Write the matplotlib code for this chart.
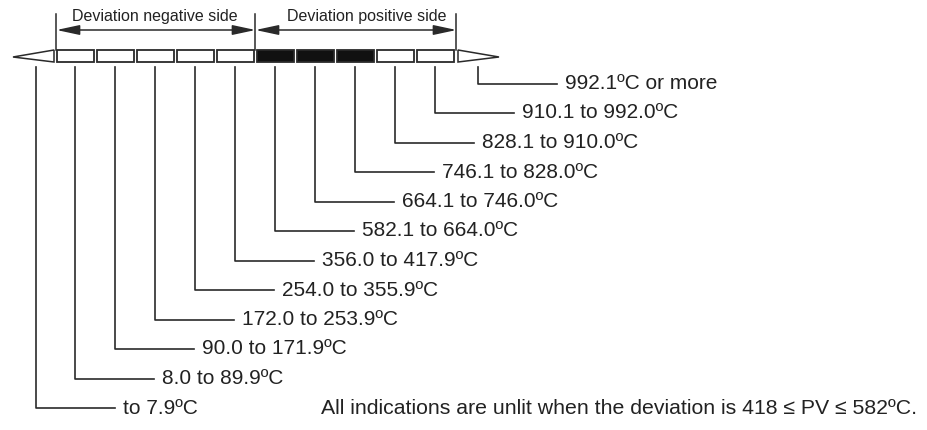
import matplotlib.pyplot as plt
from matplotlib.patches import Rectangle, Polygon, FancyArrowPatch

plt.rcParams['font.family'] = ['Liberation Sans', 'DejaVu Sans']

# range labels, from the left triangle to the right triangle
labels = ['to 7.9ºC', '8.0 to 89.9ºC', '90.0 to 171.9ºC', '172.0 to 253.9ºC',
          '254.0 to 355.9ºC', '356.0 to 417.9ºC', '582.1 to 664.0ºC',
          '664.1 to 746.0ºC', '746.1 to 828.0ºC', '828.1 to 910.0ºC',
          '910.1 to 992.0ºC', '992.1ºC or more']
# 1 = segment drawn lit (black)
lit = [0, 0, 0, 0, 0, 1, 1, 1, 0, 0]
sides = ['Deviation negative side', 'Deviation positive side']
note = 'All indications are unlit when the deviation is 418 ≤ PV ≤ 582ºC.'

line_c = '#2a2a2a'
x0, pitch, cw = 57, 40, 37
bar_top, bar_bot = 50, 62
bar_mid = (bar_top + bar_bot) / 2

fig = plt.figure(figsize=(9.28, 4.3), dpi=100)
ax = fig.add_axes([0, 0, 1, 1])
ax.set_xlim(0, 928)
ax.set_ylim(430, 0)
ax.axis('off')

# bar segments
for i, on in enumerate(lit):
    xl = x0 + pitch * i
    ax.add_patch(Rectangle((xl, bar_top), cw, bar_bot - bar_top,
                           facecolor='#111111' if on else 'white',
                           edgecolor=line_c, lw=1.3))
x_end = x0 + pitch * len(lit) - 2
ax.add_patch(Polygon([(x0 - 3, bar_top), (x0 - 3, bar_bot), (13, bar_mid + 1)],
                     closed=True, facecolor='white', edgecolor=line_c, lw=1.1))
ax.add_patch(Polygon([(x_end + 3, bar_top), (x_end + 3, bar_bot), (499, bar_mid + 1)],
                     closed=True, facecolor='white', edgecolor=line_c, lw=1.1))

# bracket with side labels
mid = x0 + pitch * 5 - 1.5
for xb in [x0 - 0.5, mid, x_end + 1.5]:
    ax.plot([xb, xb], [14, bar_top], color=line_c, lw=1.1)
for (xa, xb), txt in zip([(x0 - 0.5, mid), (mid, x_end + 1.5)], sides):
    ax.add_patch(FancyArrowPatch((xa, 30), (xb, 30),
                                 arrowstyle='<|-|>,head_length=1.4,head_width=0.3',
                                 mutation_scale=10, color=line_c, lw=1.1,
                                 shrinkA=0, shrinkB=0))
ax.text(155, 17, sides[0], ha='center', va='center', fontsize=11.5, color='#222')
ax.text(367, 17, sides[1], ha='center', va='center', fontsize=11.5, color='#222')

# leader lines and labels
leader_x = [x0 - 21] + [x0 + pitch * i + cw / 2 for i in range(len(lit))] + [x_end + 23]
for i, (lx, lab) in enumerate(zip(leader_x, labels)):
    ly = 408 - 29.5 * i
    tx = lx + 87
    ax.plot([lx, lx, tx - 8], [67, ly, ly], color=line_c, lw=1.2)
    ax.text(tx, ly, lab, ha='left', va='center', fontsize=15, color='#222')

ax.text(321, 409, note, ha='left', va='center', fontsize=15.3, color='#222')

fig.savefig('out.png', dpi=100)
